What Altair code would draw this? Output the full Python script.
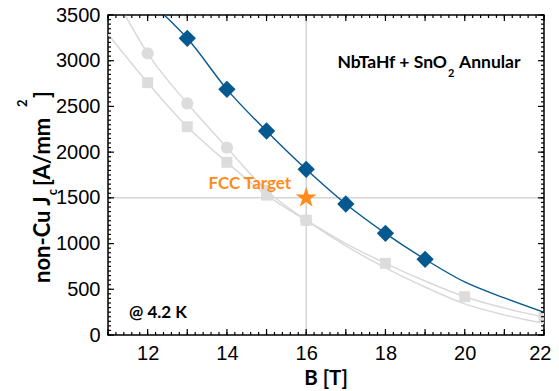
import altair as alt
import pandas as pd

# ---------------- data ----------------
B_diamond = [13, 14, 15, 16, 17, 18, 19]
Jc_diamond = [3245, 2687, 2231, 1812, 1433, 1112, 828]

B_circle = [12, 13, 14, 15, 16]
Jc_circle = [3081, 2534, 2049, 1580, 1255]

B_square = [12, 13, 14, 15, 16, 18, 20, 22]
Jc_square = [2760, 2278, 1889, 1530, 1255, 784, 419, 192]

# fitted curves
B_fit_blue = [12.42, 13, 14, 15, 16, 17, 18, 19, 20, 21, 22]
Jc_fit_blue = [3500, 3245, 2687, 2231, 1812, 1433, 1112, 828, 580, 405, 248]

B_fit_circle = [11.44, 12, 13, 14, 15, 16, 17, 18, 19, 20, 21, 22]
Jc_fit_circle = [3490, 3081, 2534, 2049, 1580, 1255, 975, 735, 525, 340, 220, 127]

B_fit_square = [11, 12, 13, 14, 15, 16, 17, 18, 19, 20, 21, 22]
Jc_fit_square = [3290, 2760, 2278, 1889, 1530, 1255, 1000, 784, 590, 419, 295, 196]

B_target = [16]
Jc_target = [1500]
target_label = ["FCC Target"]

# axis range and ticks
B_range = [11, 22]
Jc_range = [0, 3500]
x_labels = [12, 14, 16, 18, 20, 22]
x_major = list(range(11, 23))
x_minor = [round(11 + 0.2 * i, 1) for i in range(56)]
y_major = list(range(0, 3501, 500))
y_minor = list(range(0, 3501, 50))

# texts
title_main = ["NbTaHf + SnO", "2", "Annular"]
temp_label = ["@ 4.2 K"]
ytitle_parts = ["non-Cu J", "c", "[A/mm", "2", "]"]
xtitle = ["B [T]"]

BLUE = "#06598f"
GREY_M = "#dcdcdc"
GREY_L = "#d9d9d9"
ORANGE = "#ff8c1a"
BOLD_FONT = "Lato"
NUM_FONT = "Liberation Sans"
W, H = 436, 320
MAJ_PX, MIN_PX = 6, 3   # tick lengths in pixels

STAR = ("M0,-1 L0.2245,-0.309 L0.951,-0.309 L0.363,0.118 L0.588,0.809 "
        "L0,0.382 L-0.588,0.809 L-0.363,0.118 L-0.951,-0.309 L-0.2245,-0.309 Z")

xs = alt.Scale(domain=B_range, nice=False, zero=False)
ys = alt.Scale(domain=Jc_range, nice=False, zero=False)

df_d = pd.DataFrame({"B": B_diamond, "Jc": Jc_diamond})
df_c = pd.DataFrame({"B": B_circle, "Jc": Jc_circle})
df_s = pd.DataFrame({"B": B_square, "Jc": Jc_square})
df_fb = pd.DataFrame({"B": B_fit_blue, "Jc": Jc_fit_blue})
df_fc = pd.DataFrame({"B": B_fit_circle, "Jc": Jc_fit_circle})
df_fs = pd.DataFrame({"B": B_fit_square, "Jc": Jc_fit_square})
df_t = pd.DataFrame({"B": B_target, "Jc": Jc_target, "label": target_label})

# inward tick segments (tick length converted from pixels to data units)
jc_per_px = (Jc_range[1] - Jc_range[0]) / H
b_per_px = (B_range[1] - B_range[0]) / W
xt_rows = []
for vals, px in ((x_major, MAJ_PX), (x_minor, MIN_PX)):
    for v in vals:
        xt_rows.append({"B": v, "Jc": Jc_range[0], "Jc2": Jc_range[0] + px * jc_per_px})
        xt_rows.append({"B": v, "Jc": Jc_range[1], "Jc2": Jc_range[1] - px * jc_per_px})
yt_rows = []
for vals, px in ((y_major, MAJ_PX), (y_minor, MIN_PX)):
    for v in vals:
        yt_rows.append({"Jc": v, "B": B_range[0], "B2": B_range[0] + px * b_per_px})
        yt_rows.append({"Jc": v, "B": B_range[1], "B2": B_range[1] - px * b_per_px})
df_xt = pd.DataFrame(xt_rows)
df_yt = pd.DataFrame(yt_rows)


def X(axis=None):
    return alt.X("B:Q", scale=xs, axis=axis)


def Y(axis=None):
    return alt.Y("Jc:Q", scale=ys, axis=axis)


common = dict(domain=False, grid=False, ticks=False, labelOverlap=False)

# axis labels (ticks are drawn as inward segments below)
ax_labels = alt.Chart(df_d).mark_point(opacity=0).encode(
    x=X(alt.Axis(orient="bottom", values=x_labels, labelPadding=8,
                 labelFlush=True, labelFlushOffset=7,
                 labelFont=NUM_FONT, labelFontSize=20, labelColor="black",
                 title=None, **common)),
    y=Y(alt.Axis(orient="left", values=y_major, format="d", labelPadding=8,
                 labelFlush=False,
                 labelFont=NUM_FONT, labelFontSize=20, labelColor="black",
                 title=None, **common)),
)

xtick_layer = alt.Chart(df_xt).mark_rule(color="black", strokeWidth=1.2).encode(
    x=X(), y=Y(), y2="Jc2:Q")
ytick_layer = alt.Chart(df_yt).mark_rule(color="black", strokeWidth=1.2).encode(
    y=Y(), x=X(), x2="B2:Q")

# crosshair through the target
vrule = alt.Chart(df_t).mark_rule(color="#bfbfbf", strokeWidth=1).encode(x=X())
hrule = alt.Chart(df_t).mark_rule(color="#bfbfbf", strokeWidth=1).encode(y=Y())

line_c = alt.Chart(df_fc).mark_line(color=GREY_L, strokeWidth=1.5,
                                    interpolate="monotone", clip=True).encode(x=X(), y=Y())
line_s = alt.Chart(df_fs).mark_line(color=GREY_L, strokeWidth=1.5,
                                    interpolate="monotone", clip=True).encode(x=X(), y=Y())
pts_c = alt.Chart(df_c).mark_point(shape="circle", filled=True, size=150,
                                   color=GREY_M, opacity=1).encode(x=X(), y=Y())
pts_s = alt.Chart(df_s).mark_point(shape="square", filled=True, size=120,
                                   color=GREY_M, opacity=1, clip=True).encode(x=X(), y=Y())
line_b = alt.Chart(df_fb).mark_line(color=BLUE, strokeWidth=1.4,
                                    interpolate="monotone", clip=True).encode(x=X(), y=Y())
pts_d = alt.Chart(df_d).mark_point(shape="diamond", filled=True, size=300,
                                   color=BLUE, opacity=1).encode(x=X(), y=Y())
star = alt.Chart(df_t).mark_point(shape=STAR, filled=True, size=484,
                                  color=ORANGE, opacity=1).encode(x=X(), y=Y())
star_txt = alt.Chart(df_t).mark_text(align="right", baseline="alphabetic", dx=-15, dy=-9,
                                     font=BOLD_FONT, fontSize=17, fontWeight="bold",
                                     color=ORANGE).encode(x=X(), y=Y(), text="label:N")


def txt(s, x, y, size, align="left", angle=0, baseline="alphabetic", color="black"):
    d = pd.DataFrame({"t": [s]})
    kw = dict(align=align, baseline=baseline, font=BOLD_FONT, fontSize=size,
              fontWeight="bold", color=color)
    if angle:
        kw["angle"] = angle
    return alt.Chart(d).mark_text(**kw).encode(
        x=alt.value(x), y=alt.value(y), text="t:N")


texts = [
    txt(title_main[0], 339, 53, 17.5, align="right"),
    txt(title_main[1], 340, 62, 11),
    txt(title_main[2], 351, 53, 17.5),
    txt(temp_label[0], 21, 303, 17),
    txt(xtitle[0], W / 2, 370, 20.5, align="center"),
    txt(ytitle_parts[0], -58, 268, 22, angle=270),
    txt(ytitle_parts[1], -51, 177, 13, align="center", angle=270),
    txt(ytitle_parts[2], -58, 171, 22, angle=270),
    txt(ytitle_parts[3], -81, 92, 13, angle=270),
    txt(ytitle_parts[4], -58, 83, 22, angle=270),
]

chart = alt.layer(
    ax_labels, vrule, hrule, line_c, line_s, pts_c, pts_s,
    line_b, pts_d, star, star_txt, xtick_layer, ytick_layer, *texts,
).resolve_axis(x="independent", y="independent").properties(
    width=W, height=H,
    autosize=alt.AutoSizeParams(type="none"),
    padding={"left": 100, "top": 7, "right": 7, "bottom": 56},
).configure_view(stroke="black", strokeWidth=1.5)

chart.save("out.html", embed_options={"renderer": "svg", "actions": False})
